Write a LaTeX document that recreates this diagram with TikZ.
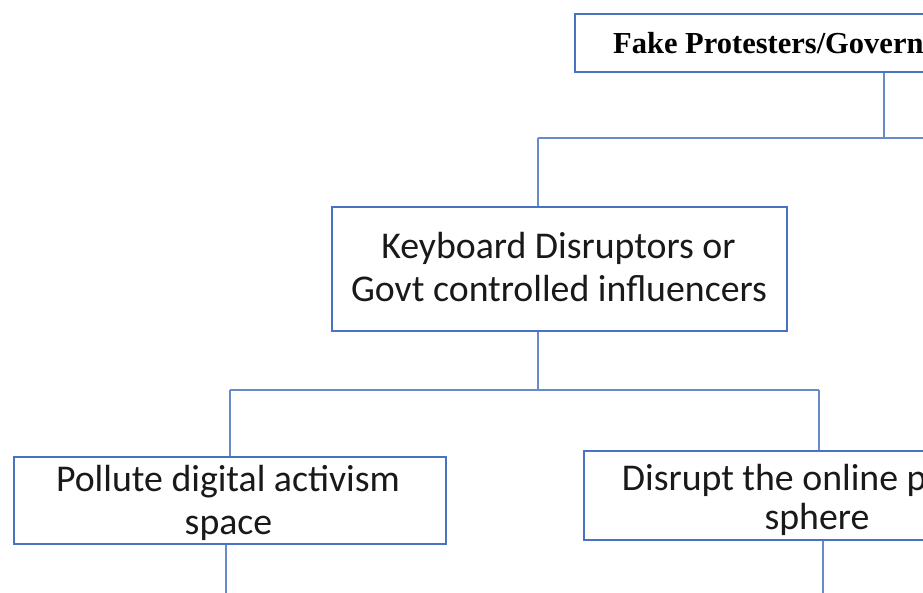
\documentclass[tikz,border=0pt]{standalone}
\usepackage{fontspec}
\setmainfont{Carlito}
\newfontfamily\headfont{Liberation Serif}
\definecolor{boxblue}{RGB}{72,114,196}
\definecolor{linkblue}{RGB}{104,138,200}
\begin{document}
\begin{tikzpicture}[x=1pt,y=-1pt,
  box/.style={draw=boxblue, line width=1.6pt, rectangle, inner sep=0pt, anchor=north west},
  link/.style={draw=linkblue, line width=1.1pt},
  bodytxt/.style={font=\fontsize{37.8}{44}\selectfont, inner sep=0pt, anchor=base, text=black!90},
  headtxt/.style={font=\headfont\bfseries\fontsize{30.5}{34}\selectfont, inner sep=0pt, anchor=base west}]
\useasboundingbox (0,0) rectangle (923,592);
\clip (0,0) rectangle (923,592);
\fill[white] (0,0) rectangle (923,592);

% top level
\node[box, minimum width=700pt, minimum height=58pt] (top) at (574,13) {};
\node[headtxt] (toptxt) at (613,53.5) {Fake Protesters/Governm};

% second level
\node[box, minimum width=455pt, minimum height=124pt] (mid) at (331,206) {};
\node[bodytxt] (mid1) at (558.5,258.3) {Keyboard Disruptors or};
\node[bodytxt] (mid2) at (559,301.7) {Govt controlled influencers};

% third level
\node[box, minimum width=432pt, minimum height=87pt] (left) at (13,456) {};
\node[bodytxt] (left1) at (228,491) {Pollute digital activism};
\node[bodytxt] (left2) at (228.5,534) {space};

\node[box, minimum width=500pt, minimum height=89pt] (right) at (583,450) {};
\node[bodytxt, anchor=base west] (right1) at (621.7,490) {Disrupt the online p};
\node[bodytxt] (right2) at (817,529) {sphere};

% branch points
\coordinate (j1) at (884,138);
\coordinate (j1w) at (538,138);
\coordinate (j1e) at (930,138);
\coordinate (j2) at (538,390);
\coordinate (j2w) at (230,390);
\coordinate (j2e) at (819,390);
\coordinate (lend) at (226,600);
\coordinate (rend) at (823,600);

% connectors
\draw[link] (top.south -| j1) -- (j1);
\draw[link] (j1w) -- (j1e);
\draw[link] (j1w) -- (j1w |- mid.north);
\draw[link] (mid.south -| j2) -- (j2);
\draw[link] (j2w) -- (j2e);
\draw[link] (j2w) -- (j2w |- left.north);
\draw[link] (j2e) -- (j2e |- right.north);
\draw[link] (left.south -| lend) -- (lend);
\draw[link] (right.south -| rend) -- (rend);
\end{tikzpicture}
\end{document}
